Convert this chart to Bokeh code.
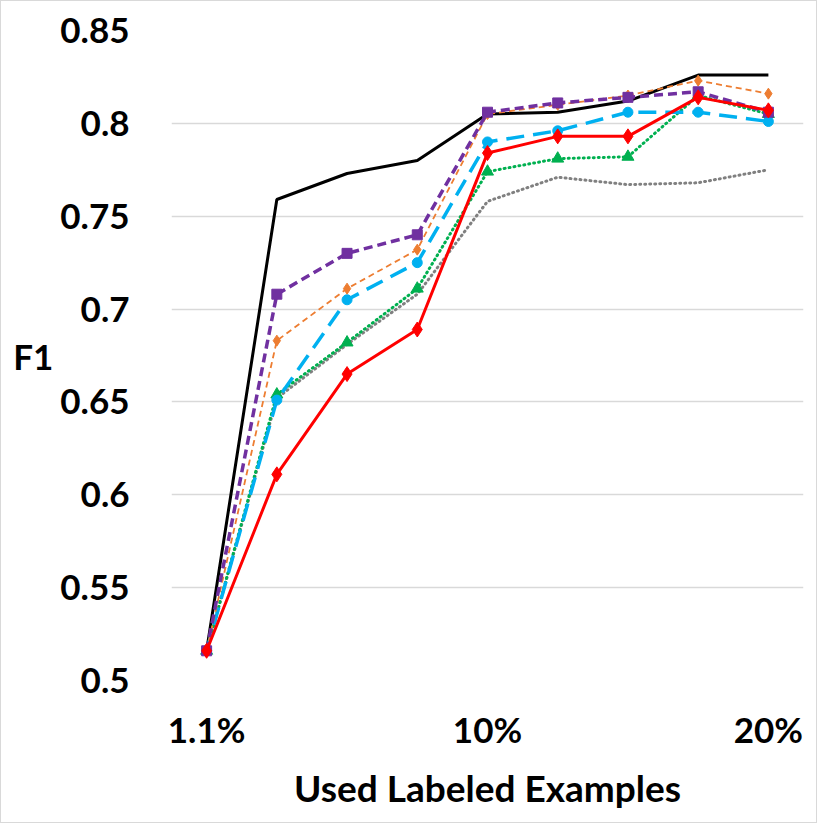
from bokeh.plotting import figure
from bokeh.models import FixedTicker, CustomJSTickFormatter, Range1d
from bokeh.embed import file_html
from bokeh.resources import INLINE

# x positions (9 evenly spaced label budgets); only three are labelled
x_pos = [0, 1, 2, 3, 4, 5, 6, 7, 8]
x_tick_labels = {0: "1.1%", 4: "10%", 8: "20%"}
y_ticks = [0.5, 0.55, 0.6, 0.65, 0.7, 0.75, 0.8, 0.85]

black_vals = [0.516, 0.759, 0.773, 0.780, 0.805, 0.806, 0.812, 0.826, 0.826]
purple_vals = [0.516, 0.708, 0.730, 0.740, 0.806, 0.811, 0.814, 0.817, 0.806]
orange_vals = [0.516, 0.683, 0.711, 0.732, 0.805, 0.810, 0.815, 0.823, 0.816]
cyan_vals = [0.516, 0.651, 0.705, 0.725, 0.790, 0.796, 0.806, 0.806, 0.801]
green_vals = [0.516, 0.654, 0.682, 0.711, 0.774, 0.781, 0.782, 0.815, 0.805]
gray_vals = [0.516, 0.652, 0.681, 0.708, 0.758, 0.771, 0.767, 0.768, 0.775]
red_vals = [0.516, 0.611, 0.665, 0.689, 0.784, 0.793, 0.793, 0.814, 0.807]

FONT = "Lato"

p = figure(output_backend="svg", toolbar_location=None,
           frame_width=632, frame_height=650,
           min_border_left=170, min_border_right=13,
           min_border_top=29, min_border_bottom=142,
           x_range=Range1d(-0.5, 8.5), y_range=Range1d(0.5, 0.85))

p.outline_line_color = None
p.xgrid.visible = False
p.ygrid.grid_line_color = "#d9d9d9"
p.ygrid.grid_line_width = 1.5

for ax in (p.xaxis, p.yaxis):
    ax.axis_line_color = None
    ax.major_tick_line_color = None
    ax.minor_tick_line_color = None
    ax.major_label_text_font = FONT
    ax.major_label_text_font_style = "bold"
    ax.major_label_text_font_size = "35px"
    ax.major_label_text_color = "black"
    ax.axis_label_text_font = FONT
    ax.axis_label_text_font_style = "bold"
    ax.axis_label_text_font_size = "37px"
    ax.axis_label_text_color = "black"

p.xaxis.ticker = FixedTicker(ticks=list(x_tick_labels.keys()))
p.xaxis.major_label_overrides = x_tick_labels
p.xaxis.major_label_standoff = 21
p.xaxis.axis_label = "Used Labeled Examples"
p.xaxis.axis_label_standoff = 12

p.yaxis.ticker = FixedTicker(ticks=y_ticks)
p.yaxis.formatter = CustomJSTickFormatter(code="return tick.toFixed(2).replace(/0$/, '');")
p.yaxis.major_label_standoff = 36
p.yaxis.axis_label = "F1"
p.yaxis.axis_label_text_font_size = "35px"
p.yaxis.axis_label_orientation = "horizontal"
p.yaxis.axis_label_standoff = 4

# black solid, no markers
p.line(x_pos, black_vals, line_color="black", line_width=3)
# gray dotted, no markers
p.line(x_pos, gray_vals, line_color="#808080", line_width=3, line_dash="1 4", line_cap="round")
# green dotted with triangles
p.line(x_pos, green_vals, line_color="#00B050", line_width=3, line_dash="1 4", line_cap="round")
p.scatter(x_pos, green_vals, marker="triangle", size=12, fill_color="#00B050", line_color="#00B050")
# cyan long dash with circles
p.line(x_pos, cyan_vals, line_color="#00B0F0", line_width=3.5, line_dash="18 9")
p.scatter(x_pos, cyan_vals, marker="circle", size=10, fill_color="#00B0F0", line_color="#00B0F0")
# orange thin dash with small diamonds
p.line(x_pos, orange_vals, line_color="#ED7D31", line_width=1.8, line_dash="6 4")
p.scatter(x_pos, orange_vals, marker="diamond", size=11, fill_color="#ED7D31", line_color="#ED7D31")
# purple dash with squares
p.line(x_pos, purple_vals, line_color="#7030A0", line_width=3.5, line_dash="9 5")
p.scatter(x_pos, purple_vals, marker="square", size=10, fill_color="#7030A0", line_color="#7030A0")
# red solid with diamonds
p.line(x_pos, red_vals, line_color="#FF0000", line_width=3)
p.scatter(x_pos, red_vals, marker="diamond", size=15, fill_color="#FF0000", line_color="#FF0000")

p.styles = {"border": "1px solid #d9d9d9"}

open("out.html", "w").write(file_html(p, INLINE))
